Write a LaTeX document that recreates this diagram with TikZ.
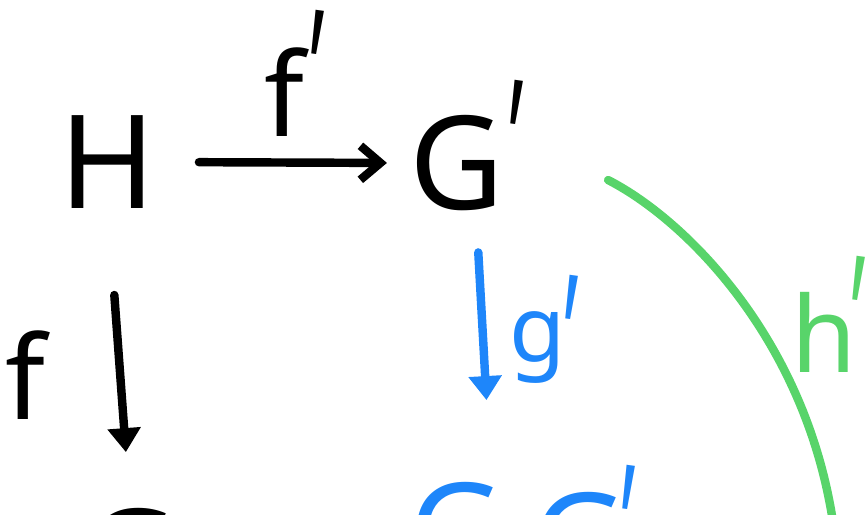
\documentclass[tikz,border=0pt]{standalone}
\usepackage{fontspec}
\setmainfont{Noto Sans}
\usetikzlibrary{arrows.meta}
\definecolor{inkblue}{HTML}{1E86FA}
\definecolor{inkgreen}{HTML}{58D46A}
\newcommand\primemark{\scalebox{0.6}[1.15]{\textquotesingle}}
\tikzset{
  obj/.style ={inner sep=0pt,font=\fontsize{37}{40}\selectfont},
  lbl/.style ={inner sep=0pt,font=\fontsize{33}{36}\selectfont},
  prm/.style ={inner sep=0pt,anchor=north,rotate=-8,font=\fontsize{42}{44}\selectfont},
  map/.style ={line width=2.4pt,line cap=round},
  opentip/.style ={-{Straight Barb[length=2mm,width=3.4mm]}},
  filltip/.style ={-{Triangle[length=2.4mm,width=3.2mm]}},
}
\begin{document}
\begin{tikzpicture}[x=0.01cm,y=-0.01cm]
        \useasboundingbox (0,0) rectangle (867,514);
        \clip (0,0) rectangle (867,514);
        \node[obj] (H)  at (108,162) {H};
        \node[obj] (Gp) at (457,163) {G};
        \node[prm] (Gp-prime) at (519,80) {\primemark};
        \node[obj,anchor=north] (G) at (130,508) {G};
        \node[obj,inkblue,anchor=north] (P)  at (457,482) {G};
        \node[obj,inkblue,anchor=north] (Pp) at (580,492) {G};
        \node[prm,inkblue] (Pp-prime) at (631,465) {\primemark};
        \coordinate (hp-end) at (836,545);
        \draw[map,opentip,shorten <=0.42cm,shorten >=0.22cm] (H.east) -- (Gp.west);
        \draw[map,filltip,shorten <=0.86cm,shorten >=0.56cm] (H.south) -- (G.north);
        \draw[map,filltip,inkblue,shorten <=0.41cm,shorten >=0.82cm]
              ([xshift=0.19cm]Gp.south) -- ([xshift=0.34cm]P.north);
        \draw[map,inkgreen] ([xshift=1.03cm,yshift=-0.17cm]Gp.east)
              .. controls (690,222) and (815,350) .. (hp-end);
        \node[lbl] (fp-lbl) at (284,92) {f};
        \node[prm] (fp-prime) at (320,10) {\primemark};
        \node[lbl] (f-lbl) at (25,375) {f};
        \node[lbl,inkblue,font=\fontsize{26}{30}\selectfont] (gp-lbl) at (538,347) {g};
        \node[prm,inkblue] (gp-prime) at (574,275) {\primemark};
        \node[lbl,inkgreen,font=\fontsize{30}{34}\selectfont] (hp-lbl) at (824,332) {h};
        \node[prm,inkgreen] (hp-prime) at (861,256) {\primemark};
      \end{tikzpicture}
\end{document}
